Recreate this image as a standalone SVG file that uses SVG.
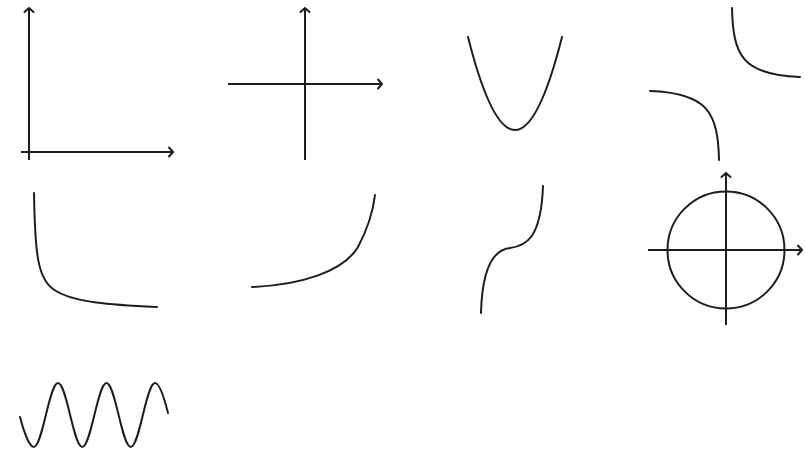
<svg xmlns="http://www.w3.org/2000/svg" width="805" height="450" viewBox="0 0 805 450">
<style>
.ln{fill:none;stroke:#1e1e1e;stroke-width:2;stroke-linecap:round;stroke-linejoin:round}
.ax{fill:none;stroke:#1e1e1e;stroke-width:2;marker-end:url(#arr)}
</style>
<defs>
<marker id="arr" markerUnits="userSpaceOnUse" viewBox="-7 -7 14 14" markerWidth="14" markerHeight="14" refX="0" refY="0" orient="auto">
<path d="M-4,-4.5 L0,0 L-4,4.5" fill="none" stroke="#1e1e1e" stroke-width="2" stroke-linecap="round" stroke-linejoin="round"/>
</marker>
</defs>
<rect width="805" height="450" fill="#fff"/>
<g id="quadrant-axes">
<line class="ax" x1="29" y1="160" x2="29" y2="8"/>
<line class="ax" x1="21" y1="152" x2="173" y2="152"/>
</g>
<g id="cross-axes">
<line class="ax" x1="305" y1="160" x2="305" y2="8"/>
<line class="ax" x1="228" y1="84" x2="382" y2="84"/>
</g>
<g id="parabola">
<path class="ln" d="M468,37 Q515,223 562,37"/>
</g>
<g id="hyperbola">
<path class="ln" d="M732,8 C733,55 742,75 800,77"/>
<path class="ln" d="M650,91 C708,93 718,113 719,160"/>
</g>
<g id="decay">
<path class="ln" d="M34,193 C35,255 38,278 53,289 C72,303 115,305 157,307"/>
</g>
<g id="growth">
<path class="ln" d="M252,287 C300,285 343,272 358,247 C367,230 373,212 375,195"/>
</g>
<g id="cubic">
<path class="ln" d="M481,313 C482,275 490,250 510,248 C525,246 541,240 543,186"/>
</g>
<g id="circle">
<circle class="ln" cx="726" cy="250" r="58.5"/>
<line class="ax" x1="726" y1="325" x2="726" y2="173"/>
<line class="ax" x1="648" y1="250" x2="802" y2="250"/>
</g>
<g id="sine">
<path class="ln" d="M20,417 C23,429 29,447 33.75,447 C42.55,447 49.2,383 58,383 C66.8,383 73.45,447 82.25,447 C91.05,447 97.7,383 106.5,383 C115.3,383 121.95,447 130.75,447 C139.55,447 146.2,383 155,383 C159.6,383 165,401 168,413"/>
</g>
</svg>
